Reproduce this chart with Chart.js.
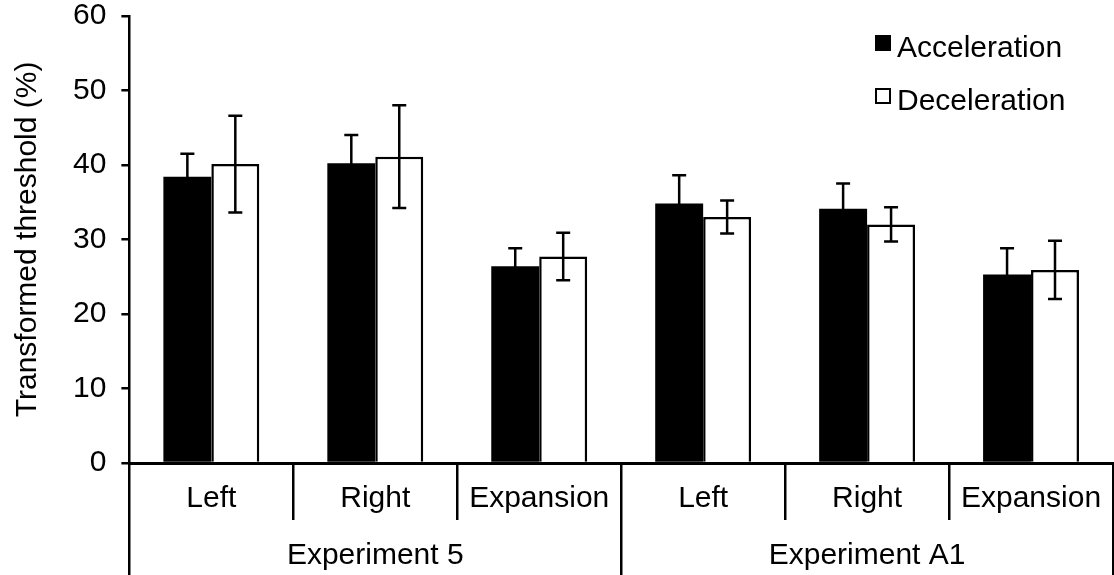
<!DOCTYPE html>
<html>
<head>
<meta charset="utf-8">
<script src="https://cdn.jsdelivr.net/npm/chart.js@4.4.1/dist/chart.umd.min.js"></script>
<style>
  html, body { margin: 0; padding: 0; background: #fff; }
  #wrap { width: 1114px; height: 575px; position: relative; }
</style>
</head>
<body>
<div id="wrap"><canvas id="chart"></canvas></div>
<script>
const conditions = ['Left', 'Right', 'Expansion', 'Left', 'Right', 'Expansion'];
const experiments = ['Experiment 5', 'Experiment A1'];
const accel = [38.4, 40.2, 26.4, 34.8, 34.1, 25.3];
const accelErr = [3.1, 3.8, 2.4, 3.8, 3.4, 3.5];
const decel = [40.1, 41.1, 27.7, 33.0, 32.0, 25.9];
const decelErr = [6.5, 6.9, 3.2, 2.2, 2.3, 3.9];
const yTicks = [0, 10, 20, 30, 40, 50, 60];

const FONT = "'Liberation Sans', Arial, Helvetica, sans-serif";

// error bars, drawn on top of the bars
const errorBars = {
    id: 'errorBars',
    afterDatasetsDraw(chart) {
        const ctx = chart.ctx, y = chart.scales.y;
        chart.data.datasets.forEach((ds, di) => {
            const meta = chart.getDatasetMeta(di);
            meta.data.forEach((bar, i) => {
                const v = ds.data[i], e = ds.errors[i];
                const top = y.getPixelForValue(v + e), bot = y.getPixelForValue(v - e);
                ctx.save();
                ctx.strokeStyle = '#000';
                ctx.lineWidth = 2.5;
                ctx.beginPath();
                ctx.moveTo(bar.x, top); ctx.lineTo(bar.x, bot);
                ctx.moveTo(bar.x - 7, top); ctx.lineTo(bar.x + 7, top);
                ctx.moveTo(bar.x - 7, bot); ctx.lineTo(bar.x + 7, bot);
                ctx.stroke();
                ctx.restore();
            });
        });
    }
};

// legend inside the plot, top right
const boxLegend = {
    id: 'boxLegend',
    afterDraw(chart) {
        const ctx = chart.ctx, area = chart.chartArea;
        const x0 = area.right - 238;
        const rows = [57, 110];
        ctx.save();
        ctx.font = '30px ' + FONT;
        ctx.textBaseline = 'alphabetic';
        chart.data.datasets.forEach((ds, i) => {
            const by = rows[i] - 22;
            ctx.fillStyle = ds.backgroundColor;
            ctx.fillRect(x0, by, 16, 16);
            ctx.strokeStyle = '#000';
            ctx.lineWidth = 2;
            ctx.strokeRect(x0 + 1, by + 1, 14, 14);
            ctx.fillStyle = '#000';
            ctx.fillText(ds.label, x0 + 22, rows[i]);
        });
        ctx.restore();
    }
};

new Chart(document.getElementById('chart'), {
    type: 'bar',
    data: {
        labels: conditions,
        datasets: [
            { label: 'Acceleration', data: accel, errors: accelErr, backgroundColor: '#000', borderColor: '#000', borderWidth: 0 },
            { label: 'Deceleration', data: decel, errors: decelErr, backgroundColor: '#fff', borderColor: '#000', borderWidth: 2.5 }
        ]
    },
    options: {
        responsive: true, maintainAspectRatio: false, animation: false,
        categoryPercentage: 0.585, barPercentage: 1,
        layout: { padding: { left: 10, top: 2, right: 1, bottom: 0 } },
        plugins: { legend: { display: false }, tooltip: { enabled: false } },
        scales: {
            x: {
                type: 'category', offset: true, weight: 0,
                grid: { offset: true, drawOnChartArea: false, drawTicks: true, tickLength: 57, color: '#000', lineWidth: 2.5 },
                border: { display: true, color: '#000', width: 3 },
                ticks: { color: '#000', font: { family: FONT, size: 30, lineHeight: 1 }, padding: -36, maxRotation: 0, autoSkip: false },
                afterFit: (s) => { s.height = 57; }
            },
            x2: {
                type: 'category', position: 'bottom', labels: experiments, offset: true, weight: 1,
                grid: { offset: true, drawOnChartArea: false, drawTicks: true, tickLength: 55, color: '#000', lineWidth: 2.5 },
                border: { display: false },
                ticks: { color: '#000', font: { family: FONT, size: 30, lineHeight: 1 }, padding: -34, maxRotation: 0, autoSkip: false },
                afterFit: (s) => { s.height = 55; }
            },
            y: {
                min: 0, max: 60,
                afterBuildTicks: (s) => { s.ticks = yTicks.map(v => ({ value: v })); },
                grid: { drawOnChartArea: false, drawTicks: true, tickLength: 8, color: '#000', lineWidth: 2.5 },
                border: { display: true, color: '#000', width: 2.5 },
                ticks: { color: '#000', font: { family: FONT, size: 30, lineHeight: 0.05 }, padding: 15 },
                title: { display: true, text: 'Transformed threshold (%)', color: '#000', font: { family: FONT, size: 30 }, padding: { top: 0, bottom: 12 } }
            }
        }
    },
    plugins: [errorBars, boxLegend]
});
</script>
</body>
</html>
